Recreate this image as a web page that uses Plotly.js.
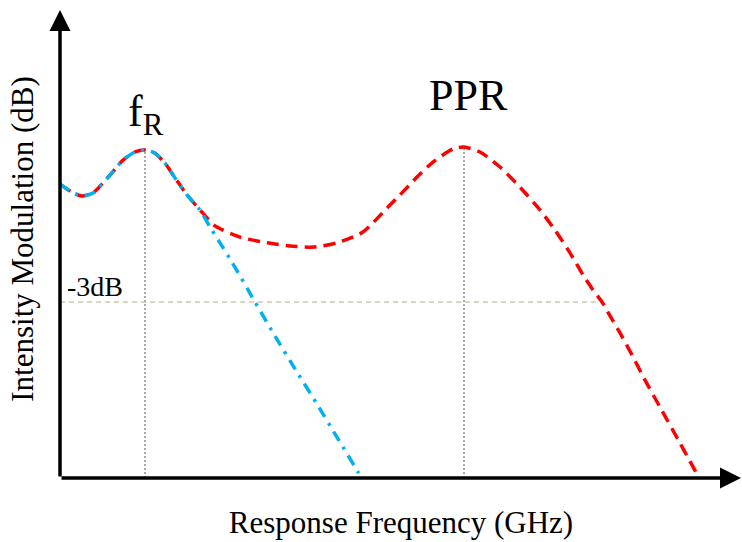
<!DOCTYPE html>
<html>
<head>
<meta charset="utf-8">
<script src="https://cdn.plot.ly/plotly-3.0.1.min.js"></script>
<style>html,body{margin:0;padding:0;background:#fff;}#chart{width:742px;height:542px;}</style>
</head>
<body>
<div id="chart"></div>
<script>
// Frequency (arbitrary GHz units) and intensity modulation (dB) read from the schematic
var redFreq = [0, 0.48, 0.88, 1.32, 2.0, 2.52, 3.0, 3.4, 3.8, 4.2, 4.6, 5.08, 5.6, 6.2, 7.2, 8.28, 9.2, 10.12, 11.08, 12.12, 13.08, 13.6, 14.28, 14.92, 15.72, 16.16, 16.8, 17.6, 18.4, 19.2, 19.8, 20.4, 20.92, 21.32, 21.68, 22.0, 22.4, 22.88, 23.4, 24.0, 24.8, 25.52];
var redDB = [0.05, -0.16, -0.26, -0.18, 0.28, 0.67, 0.88, 0.93, 0.85, 0.59, 0.21, -0.23, -0.62, -1.03, -1.32, -1.47, -1.55, -1.58, -1.47, -1.19, -0.57, -0.23, 0.23, 0.62, 0.96, 1.01, 0.88, 0.49, -0.03, -0.62, -1.14, -1.73, -2.30, -2.69, -3.0, -3.36, -3.80, -4.37, -5.02, -5.72, -6.65, -7.50];
var blueFreq = [0, 0.48, 0.88, 1.32, 2.0, 2.52, 3.0, 3.4, 3.8, 4.2, 4.6, 5.08, 5.6, 6.0, 6.4, 6.88, 7.8, 8.6, 9.4, 10.28, 11.12, 11.92, 12.0];
var blueDB = [0.05, -0.16, -0.26, -0.18, 0.28, 0.67, 0.88, 0.93, 0.85, 0.59, 0.21, -0.23, -0.62, -1.06, -1.47, -1.97, -3.0, -3.88, -4.73, -5.64, -6.54, -7.40, -7.50];
var fR = 3.4, fRPeak = 0.93;
var fPPR = 16.16, pprPeak = 1.01;
var level3dB = -3.0, cross3dB = 21.68;
var xMin = 0, xMax = 27.28, yMin = -7.5517, yMax = 4.8103;
var xArrowTip = 27.24, yArrowTip = 4.55;
var labels = {fR: 'f<sub>R</sub>', ppr: 'PPR', minus3: '-3dB', xTitle: 'Response Frequency (GHz)', yTitle: 'Intensity Modulation (dB)'};

var serif = 'Liberation Serif, Times New Roman, serif';

var traces = [
  {x: [fR, fR], y: [yMin, fRPeak], mode: 'lines', line: {color: '#555555', width: 1, dash: '2px,2px'}, hoverinfo: 'skip'},
  {x: [fPPR, fPPR], y: [yMin, pprPeak], mode: 'lines', line: {color: '#555555', width: 1, dash: '2px,2px'}, hoverinfo: 'skip'},
  {x: [xMin, cross3dB], y: [level3dB, level3dB], mode: 'lines', line: {color: '#b5ad85', width: 1.2, dash: '5px,4px'}, hoverinfo: 'skip'},
  {x: redFreq, y: redDB, mode: 'lines', line: {color: '#ff0000', width: 3.5, dash: '12px,7px', shape: 'spline', smoothing: 0.6}},
  {x: blueFreq, y: blueDB, mode: 'lines', line: {color: '#00b0f0', width: 3.5, dash: '11px,7px,3px,7px', shape: 'spline', smoothing: 0.6}}
];

var layout = {
  width: 742, height: 542,
  margin: {l: 60, r: 0, t: 0, b: 64},
  paper_bgcolor: '#ffffff', plot_bgcolor: '#ffffff',
  showlegend: false,
  xaxis: {range: [xMin, xMax], showgrid: false, zeroline: false, showline: false, showticklabels: false, ticks: '',
          title: {text: labels.xTitle, font: {family: serif, size: 31, color: '#000'}, standoff: 33}},
  yaxis: {range: [yMin, yMax], showgrid: false, zeroline: false, showline: false, showticklabels: false, ticks: '',
          title: {text: labels.yTitle, font: {family: serif, size: 31, color: '#000'}, standoff: 16}},
  annotations: [
    {x: 0, y: yArrowTip, xref: 'x', yref: 'y', ax: 0, ay: 468, axref: 'pixel', ayref: 'pixel', showarrow: true, arrowhead: 2, arrowsize: 1.2, arrowwidth: 3.5, arrowcolor: '#000', text: ''},
    {x: xArrowTip, y: yMin, xref: 'x', yref: 'y', ax: -681, ay: 0, axref: 'pixel', ayref: 'pixel', showarrow: true, arrowhead: 2, arrowsize: 1.2, arrowwidth: 3.5, arrowcolor: '#000', text: ''},
    {x: fR + 0.05, y: 1.84, xref: 'x', yref: 'y', text: labels.fR, showarrow: false, font: {family: serif, size: 44, color: '#000'}},
    {x: 16.32, y: 2.33, xref: 'x', yref: 'y', text: labels.ppr, showarrow: false, font: {family: serif, size: 44, color: '#000'}},
    {x: 0.2, y: -2.61, xref: 'x', yref: 'y', xanchor: 'left', text: labels.minus3, showarrow: false, font: {family: serif, size: 28, color: '#000'}}
  ]
};

Plotly.newPlot('chart', traces, layout, {displayModeBar: false, staticPlot: true});
</script>
</body>
</html>
